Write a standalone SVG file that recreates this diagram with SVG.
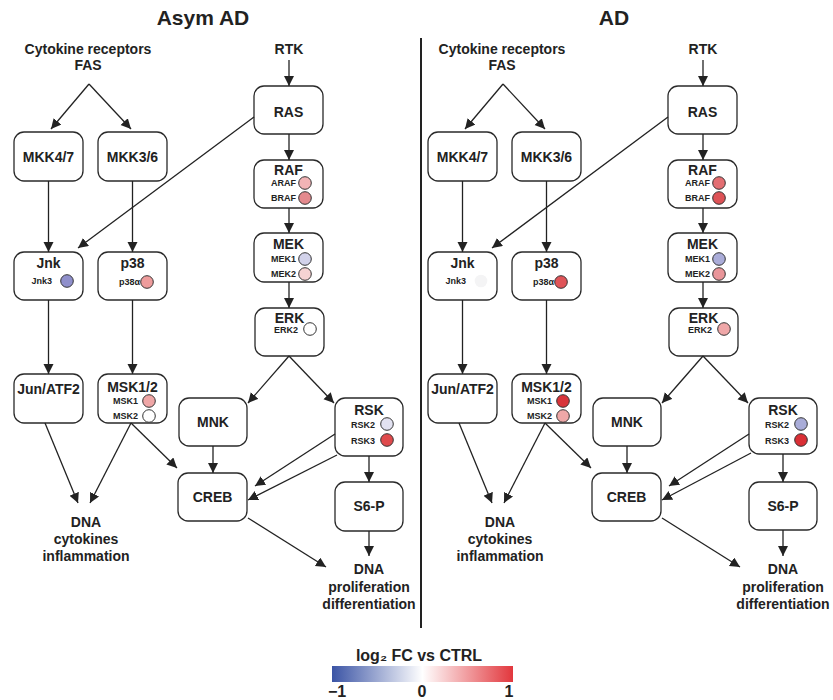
<svg xmlns="http://www.w3.org/2000/svg" width="833" height="700" viewBox="0 0 833 700">
<style>
text{font-family:"Liberation Sans",Arial,sans-serif;font-weight:bold;fill:#222}
.t{font-size:14px;text-anchor:middle}
.ttl{font-size:21px;text-anchor:middle}
.s{font-size:9px;text-anchor:end}
.box{fill:#fff;stroke:#2a2a2a;stroke-width:1.3}
.c{stroke:#333;stroke-width:1}
.e{fill:none;stroke:#222;stroke-width:1.3;marker-end:url(#ah)}
.lg{font-size:16px;text-anchor:middle}
</style>
<defs>
<marker id="ah" markerUnits="userSpaceOnUse" markerWidth="11" markerHeight="11" refX="10" refY="5" orient="auto">
<path d="M0,0 L10,5 L0,10 z" fill="#222"/>
</marker>
<linearGradient id="grad" x1="0" y1="0" x2="1" y2="0">
<stop offset="0" stop-color="#3b54a5"/>
<stop offset="0.5" stop-color="#ffffff"/>
<stop offset="1" stop-color="#e2373d"/>
</linearGradient>
</defs>
<rect width="833" height="700" fill="#fff"/>

<line x1="421" y1="38" x2="421" y2="628" stroke="#222" stroke-width="2"/>

<!-- ===== Left panel: Asym AD ===== -->
<g id="asym">
<text class="ttl" x="203" y="25">Asym AD</text>
<g id="asym-cytokine"><text class="t" x="88" y="54">Cytokine receptors</text><text class="t" x="88" y="70">FAS</text></g>
<g id="asym-rtk"><text class="t" x="289" y="54">RTK</text></g>
<g id="asym-mkk47"><rect class="box" x="14" y="132" width="69" height="49" rx="10"/><text class="t" x="48.5" y="162">MKK4/7</text></g>
<g id="asym-mkk36"><rect class="box" x="98" y="132" width="69" height="49" rx="10"/><text class="t" x="132.5" y="162">MKK3/6</text></g>
<g id="asym-ras"><rect class="box" x="254" y="86" width="69" height="48" rx="10"/><text class="t" x="288.5" y="117">RAS</text></g>
<g id="asym-raf"><rect class="box" x="254" y="160" width="69" height="48" rx="10"/><text class="t" x="288.5" y="175">RAF</text>
<text class="s" x="296" y="186">ARAF</text><circle class="c" cx="305" cy="183" r="6.3" fill="#f2b4b6"/>
<text class="s" x="296" y="201">BRAF</text><circle class="c" cx="305" cy="198" r="6.3" fill="#e48a8e"/></g>
<g id="asym-mek"><rect class="box" x="254" y="233" width="69" height="49" rx="10"/><text class="t" x="288.5" y="249">MEK</text>
<text class="s" x="296" y="262">MEK1</text><circle class="c" cx="305" cy="259" r="6.3" fill="#d2d2ea"/>
<text class="s" x="296" y="277">MEK2</text><circle class="c" cx="305" cy="274" r="6.3" fill="#f6d2d2"/></g>
<g id="asym-erk"><rect class="box" x="255" y="308" width="69" height="48" rx="10"/><text class="t" x="289.5" y="323">ERK</text>
<text class="s" x="298" y="333">ERK2</text><circle class="c" cx="310" cy="329" r="6.3" fill="#ffffff"/></g>
<g id="asym-jnk"><rect class="box" x="14" y="252" width="69" height="48" rx="10"/><text class="t" x="48.5" y="268">Jnk</text>
<text class="s" x="52" y="284">Jnk3</text><circle class="c" cx="67" cy="281" r="6.3" fill="#8f8fcb"/></g>
<g id="asym-p38"><rect class="box" x="98" y="252" width="69" height="48" rx="10"/><text class="t" x="132.5" y="268">p38</text>
<text class="s" x="140" y="285">p38α</text><circle class="c" cx="147" cy="282" r="6.3" fill="#ee9c9c"/></g>
<g id="asym-jun"><rect class="box" x="14" y="374" width="69" height="49" rx="10"/><text class="t" x="48.5" y="394">Jun/ATF2</text></g>
<g id="asym-msk"><rect class="box" x="98" y="374" width="69" height="49" rx="10"/><text class="t" x="132.5" y="392">MSK1/2</text>
<text class="s" x="138" y="404">MSK1</text><circle class="c" cx="149" cy="401" r="6.3" fill="#efa6a6"/>
<text class="s" x="138" y="419">MSK2</text><circle class="c" cx="149" cy="416" r="6.3" fill="#ffffff"/></g>
<g id="asym-mnk"><rect class="box" x="179" y="398" width="68" height="48" rx="10"/><text class="t" x="213" y="427">MNK</text></g>
<g id="asym-rsk"><rect class="box" x="335" y="398" width="68" height="58" rx="10"/><text class="t" x="369" y="415">RSK</text>
<text class="s" x="375" y="428">RSK2</text><circle class="c" cx="387" cy="424" r="6.3" fill="#e2e2f1"/>
<text class="s" x="375" y="444">RSK3</text><circle class="c" cx="387" cy="440" r="6.3" fill="#df4a4c"/></g>
<g id="asym-creb"><rect class="box" x="178" y="473" width="69" height="48" rx="10"/><text class="t" x="212.5" y="502">CREB</text></g>
<g id="asym-s6p"><rect class="box" x="335" y="482" width="68" height="49" rx="10"/><text class="t" x="369" y="511">S6-P</text></g>
<g id="asym-dna1"><text class="t" x="86" y="527">DNA</text><text class="t" x="86" y="544">cytokines</text><text class="t" x="86" y="561">inflammation</text></g>
<g id="asym-dna2"><text class="t" x="369" y="574">DNA</text><text class="t" x="369" y="592">proliferation</text><text class="t" x="369" y="609">differentiation</text></g>
<g id="asym-connectors">
<line class="e" x1="89" y1="84" x2="51" y2="129"/>
<line class="e" x1="89" y1="84" x2="131" y2="129"/>
<line class="e" x1="289" y1="60" x2="289" y2="86"/>
<line class="e" x1="48.5" y1="181" x2="48.5" y2="252"/>
<line class="e" x1="132.5" y1="181" x2="132.5" y2="252"/>
<line class="e" x1="254" y1="117" x2="78" y2="248"/>
<line class="e" x1="289" y1="134" x2="289" y2="160"/>
<line class="e" x1="289" y1="208" x2="289" y2="233"/>
<line class="e" x1="289" y1="282" x2="289" y2="308"/>
<line class="e" x1="289" y1="356" x2="248" y2="403"/>
<line class="e" x1="289" y1="356" x2="334" y2="403"/>
<line class="e" x1="48.5" y1="300" x2="48.5" y2="374"/>
<line class="e" x1="132.5" y1="300" x2="132.5" y2="374"/>
<line class="e" x1="45" y1="423" x2="78" y2="503"/>
<line class="e" x1="131" y1="423" x2="90" y2="503"/>
<line class="e" x1="131" y1="423" x2="177" y2="468"/>
<line class="e" x1="213" y1="446" x2="213" y2="473"/>
<line class="e" x1="335" y1="434" x2="255" y2="486"/>
<line class="e" x1="337" y1="455" x2="248" y2="500"/>
<line class="e" x1="369" y1="456" x2="369" y2="482"/>
<line class="e" x1="369" y1="531" x2="369" y2="556"/>
<line class="e" x1="248" y1="518" x2="326" y2="567"/>
</g>
</g>

<!-- ===== Right panel: AD ===== -->
<g id="ad" transform="translate(414,0)">
<text class="ttl" x="200" y="25">AD</text>
<g id="ad-cytokine"><text class="t" x="88" y="54">Cytokine receptors</text><text class="t" x="88" y="70">FAS</text></g>
<g id="ad-rtk"><text class="t" x="289" y="54">RTK</text></g>
<g id="ad-mkk47"><rect class="box" x="14" y="132" width="69" height="49" rx="10"/><text class="t" x="48.5" y="162">MKK4/7</text></g>
<g id="ad-mkk36"><rect class="box" x="98" y="132" width="69" height="49" rx="10"/><text class="t" x="132.5" y="162">MKK3/6</text></g>
<g id="ad-ras"><rect class="box" x="254" y="86" width="69" height="48" rx="10"/><text class="t" x="288.5" y="117">RAS</text></g>
<g id="ad-raf"><rect class="box" x="254" y="160" width="69" height="48" rx="10"/><text class="t" x="288.5" y="175">RAF</text>
<text class="s" x="296" y="186">ARAF</text><circle class="c" cx="305" cy="183" r="6.3" fill="#e36e72"/>
<text class="s" x="296" y="201">BRAF</text><circle class="c" cx="305" cy="198" r="6.3" fill="#dd5256"/></g>
<g id="ad-mek"><rect class="box" x="254" y="233" width="69" height="49" rx="10"/><text class="t" x="288.5" y="249">MEK</text>
<text class="s" x="296" y="262">MEK1</text><circle class="c" cx="305" cy="259" r="6.3" fill="#aaacd8"/>
<text class="s" x="296" y="277">MEK2</text><circle class="c" cx="305" cy="274" r="6.3" fill="#e99599"/></g>
<g id="ad-erk"><rect class="box" x="255" y="308" width="69" height="48" rx="10"/><text class="t" x="289.5" y="323">ERK</text>
<text class="s" x="298" y="333">ERK2</text><circle class="c" cx="310" cy="329" r="6.3" fill="#efa7a8"/></g>
<g id="ad-jnk"><rect class="box" x="14" y="252" width="69" height="48" rx="10"/><text class="t" x="48.5" y="268">Jnk</text>
<text class="s" x="52" y="284">Jnk3</text><circle cx="67" cy="281" r="6.3" fill="#f4f4f5"/></g>
<g id="ad-p38"><rect class="box" x="98" y="252" width="69" height="48" rx="10"/><text class="t" x="132.5" y="268">p38</text>
<text class="s" x="140" y="285">p38α</text><circle class="c" cx="147" cy="282" r="6.3" fill="#df5458"/></g>
<g id="ad-jun"><rect class="box" x="14" y="374" width="69" height="49" rx="10"/><text class="t" x="48.5" y="394">Jun/ATF2</text></g>
<g id="ad-msk"><rect class="box" x="98" y="374" width="69" height="49" rx="10"/><text class="t" x="132.5" y="392">MSK1/2</text>
<text class="s" x="138" y="404">MSK1</text><circle class="c" cx="149" cy="401" r="6.3" fill="#d8343a"/>
<text class="s" x="138" y="419">MSK2</text><circle class="c" cx="149" cy="416" r="6.3" fill="#eea8a8"/></g>
<g id="ad-mnk"><rect class="box" x="179" y="398" width="68" height="48" rx="10"/><text class="t" x="213" y="427">MNK</text></g>
<g id="ad-rsk"><rect class="box" x="335" y="398" width="68" height="56" rx="10"/><text class="t" x="369" y="415">RSK</text>
<text class="s" x="375" y="428">RSK2</text><circle class="c" cx="387" cy="424" r="6.3" fill="#a9acd8"/>
<text class="s" x="375" y="444">RSK3</text><circle class="c" cx="387" cy="440" r="6.3" fill="#da2f35"/></g>
<g id="ad-creb"><rect class="box" x="178" y="473" width="69" height="48" rx="10"/><text class="t" x="212.5" y="502">CREB</text></g>
<g id="ad-s6p"><rect class="box" x="335" y="482" width="68" height="48" rx="10"/><text class="t" x="369" y="511">S6-P</text></g>
<g id="ad-dna1"><text class="t" x="86" y="527">DNA</text><text class="t" x="86" y="544">cytokines</text><text class="t" x="86" y="561">inflammation</text></g>
<g id="ad-dna2"><text class="t" x="369" y="574">DNA</text><text class="t" x="369" y="592">proliferation</text><text class="t" x="369" y="609">differentiation</text></g>
<g id="ad-connectors">
<line class="e" x1="89" y1="84" x2="51" y2="129"/>
<line class="e" x1="89" y1="84" x2="131" y2="129"/>
<line class="e" x1="289" y1="60" x2="289" y2="86"/>
<line class="e" x1="48.5" y1="181" x2="48.5" y2="252"/>
<line class="e" x1="132.5" y1="181" x2="132.5" y2="252"/>
<line class="e" x1="254" y1="117" x2="78" y2="248"/>
<line class="e" x1="289" y1="134" x2="289" y2="160"/>
<line class="e" x1="289" y1="208" x2="289" y2="233"/>
<line class="e" x1="289" y1="282" x2="289" y2="308"/>
<line class="e" x1="289" y1="356" x2="248" y2="403"/>
<line class="e" x1="289" y1="356" x2="334" y2="403"/>
<line class="e" x1="48.5" y1="300" x2="48.5" y2="374"/>
<line class="e" x1="132.5" y1="300" x2="132.5" y2="374"/>
<line class="e" x1="45" y1="423" x2="78" y2="503"/>
<line class="e" x1="131" y1="423" x2="90" y2="503"/>
<line class="e" x1="131" y1="423" x2="177" y2="468"/>
<line class="e" x1="213" y1="446" x2="213" y2="473"/>
<line class="e" x1="335" y1="434" x2="255" y2="486"/>
<line class="e" x1="337" y1="453" x2="248" y2="500"/>
<line class="e" x1="369" y1="454" x2="369" y2="482"/>
<line class="e" x1="369" y1="530" x2="369" y2="556"/>
<line class="e" x1="248" y1="518" x2="326" y2="567"/>
</g>
</g>

<!-- ===== Legend ===== -->
<g id="legend">
<text class="lg" x="419" y="661">log₂ FC vs CTRL</text>
<rect x="332" y="666" width="181" height="16" fill="url(#grad)"/>
<text class="lg" x="337" y="697">−1</text>
<text class="lg" x="422" y="697">0</text>
<text class="lg" x="509" y="697">1</text>
</g>
</svg>
